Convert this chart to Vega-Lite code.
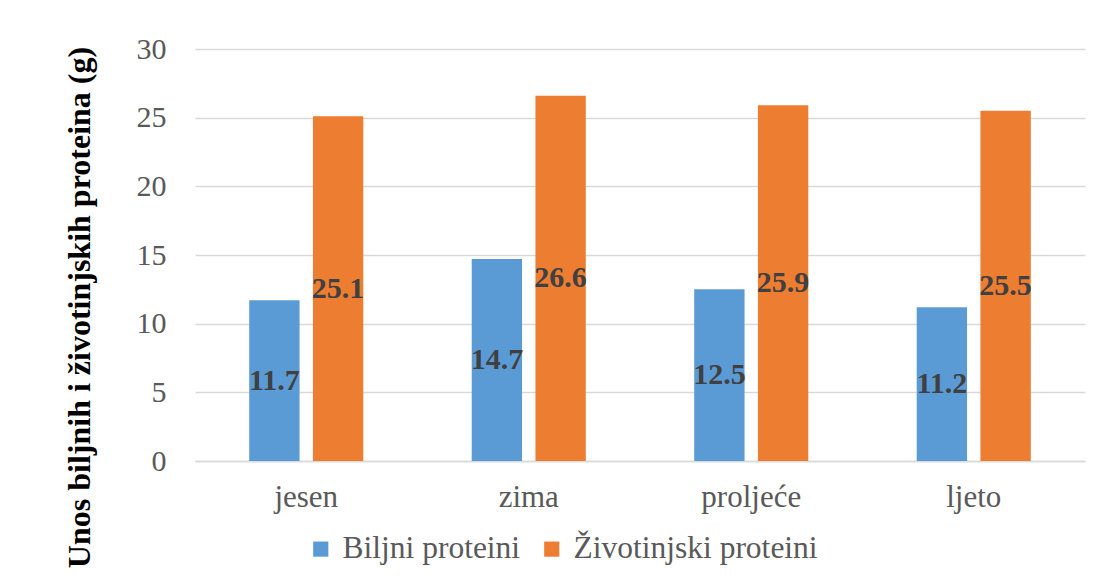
{
  "$schema": "https://vega.github.io/schema/vega-lite/v6.json",
  "autosize": "none",
  "width": 890,
  "height": 412,
  "padding": {"left": 195, "top": 49, "right": 16, "bottom": 118},
  "background": "white",
  "data": {"values": [
    {"season": "jesen", "series": "Biljni proteini", "value": 11.7},
    {"season": "jesen", "series": "Životinjski proteini", "value": 25.1},
    {"season": "zima", "series": "Biljni proteini", "value": 14.7},
    {"season": "zima", "series": "Životinjski proteini", "value": 26.6},
    {"season": "proljeće", "series": "Biljni proteini", "value": 12.5},
    {"season": "proljeće", "series": "Životinjski proteini", "value": 25.9},
    {"season": "ljeto", "series": "Biljni proteini", "value": 11.2},
    {"season": "ljeto", "series": "Životinjski proteini", "value": 25.5}
  ]},
  "encoding": {
    "x": {"field": "season", "type": "nominal", "sort": null,
      "scale": {"paddingInner": 0.43, "paddingOuter": 0.215},
      "axis": {"title": null, "labelAngle": 0, "ticks": false, "domainColor": "#d9d9d9", "domainWidth": 1.5,
        "labelFont": "'Liberation Serif', 'Times New Roman', serif", "labelFontSize": 31, "labelColor": "#595959", "labelPadding": 21}},
    "xOffset": {"field": "series", "type": "nominal", "sort": null,
      "scale": {"paddingInner": 0.21, "paddingOuter": 0.1}},
    "y": {"field": "value", "type": "quantitative", "stack": null,
      "scale": {"domain": [0, 30]},
      "axis": {"values": [0, 5, 10, 15, 20, 25, 30], "title": "Unos biljnih i životinjskih proteina (g)",
        "titleFont": "'Liberation Serif', 'Times New Roman', serif", "titleFontSize": 32, "titleFontWeight": "bold", "titleColor": "#000000",
        "titlePadding": 40, "titleY": 258, "titleLimit": 0,
        "labelFont": "'Liberation Serif', 'Times New Roman', serif", "labelFontSize": 30, "labelColor": "#595959", "labelPadding": 29,
        "ticks": false, "domain": false, "gridColor": "#d9d9d9", "gridWidth": 1.5}}
  },
  "layer": [
    {
      "mark": {"type": "bar"},
      "encoding": {
        "color": {"field": "series", "type": "nominal", "sort": null,
          "scale": {"domain": ["Biljni proteini", "Životinjski proteini"], "range": ["#5B9BD5", "#ED7D31"]},
          "legend": {"title": null, "orient": "none", "direction": "horizontal", "legendX": 110, "legendY": 484,
            "symbolType": "square", "symbolSize": 230, "symbolStrokeWidth": 0, "labelLimit": 0,
            "labelFont": "'Liberation Serif', 'Times New Roman', serif", "labelFontSize": 31.5, "labelColor": "#595959",
            "labelOffset": 6, "columnPadding": 15}}
      }
    },
    {
      "mark": {"type": "text", "font": "'Liberation Serif', 'Times New Roman', serif", "fontSize": 30, "fontWeight": "bold", "color": "#404040", "baseline": "middle"},
      "encoding": {
        "y": {"field": "value", "type": "quantitative", "stack": "zero", "bandPosition": 0.5},
        "text": {"field": "value", "type": "quantitative", "format": ".1f"}
      }
    }
  ],
  "config": {"view": {"stroke": null}}
}
